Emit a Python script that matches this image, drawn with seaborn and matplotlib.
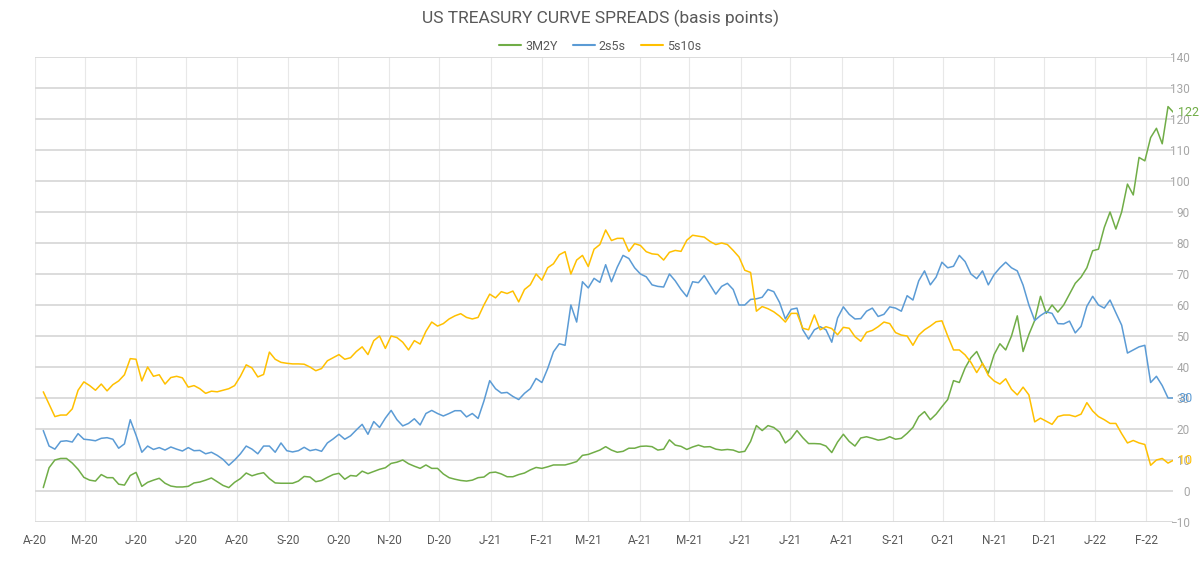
import numpy as np
import pandas as pd
import matplotlib
matplotlib.use("Agg")
import matplotlib.pyplot as plt
import matplotlib.dates as mdates
from matplotlib.lines import Line2D
import seaborn as sns

# ---------------- data ----------------
start_date = "2020-04-06"
step = "84h"   # twice-weekly sampling

s_3m2y = [1.1, 7.5, 10, 10.5, 10.5, 9, 7, 4.4, 3.5, 3.2,
          5.3, 4.3, 4.3, 2.2, 1.9, 5, 6, 1.5, 2.8, 3.5,
          4.1, 2.5, 1.6, 1.3, 1.3, 1.5, 2.6, 2.9, 3.5, 4.2,
          3, 1.8, 1.1, 2.8, 4, 5.8, 4.9, 5.5, 5.9, 4,
          2.6, 2.5, 2.5, 2.5, 3.2, 4.7, 4.5, 3, 3.4, 4.4,
          5.3, 5.7, 3.8, 5, 4.8, 6.4, 5.6, 6.3, 7, 7.5,
          8.9, 9.3, 10, 8.8, 8, 7.3, 8.4, 7.3, 7.3, 5.5,
          4.3, 3.8, 3.4, 3.2, 3.5, 4.3, 4.5, 5.9, 6.1, 5.5,
          4.6, 4.6, 5.3, 5.8, 6.8, 7.6, 7.3, 7.8, 8.4, 8.4,
          8.4, 8.9, 9.5, 11.5, 11.8, 12.5, 13.2, 14.3, 13.2, 12.5,
          12.8, 13.8, 13.8, 14.4, 14.5, 14.3, 13.2, 13.5, 16.5, 14.8,
          14.4, 13.4, 14.2, 14.8, 14.2, 14.3, 13.5, 13.2, 13.4, 13.2,
          12.5, 12.8, 16, 21.1, 19.5, 21.1, 20.5, 19, 15.5, 17,
          19.5, 17.2, 15.3, 15.3, 15.2, 14.5, 12.4, 15.8, 18.3, 16,
          14.5, 17.1, 17.5, 17, 16.4, 16.7, 17.5, 16.7, 17, 18.6,
          20.5, 24, 25.6, 23, 24.8, 27.2, 29.5, 35.6, 35, 39.7,
          43, 45, 41, 38, 44, 47.5, 45.5, 50, 56.5, 45,
          50.5, 55, 62.8, 57.3, 60, 57.7, 60, 63.5, 67, 69,
          72, 77.5, 78, 85, 90, 84.5, 90, 99, 95.5, 107.6,
          106.5, 114, 117, 112, 124, 122]

s_2s5s = [19.5, 14.5, 13.5, 16, 16.2, 15.8, 18.5, 16.7, 16.5, 16.2,
          17, 17.2, 16.7, 13.8, 15.2, 23, 18, 12.5, 14.5, 13.4,
          14, 13.2, 14.2, 13.5, 12.9, 14, 13, 13.1, 12, 12.5,
          11.5, 10.2, 8.3, 10, 12, 14.5, 13.5, 12, 14.5, 14.5,
          12.5, 15.5, 13, 12.6, 13, 14.1, 13, 13.4, 12.8, 15.5,
          16.8, 18.3, 16.7, 17.8, 19.7, 21.5, 18.3, 22.4, 20.5, 23.5,
          26, 23, 21, 21.8, 23.3, 21.3, 25, 26, 25, 24.2,
          25, 25.9, 25.9, 23.9, 25, 23.4, 29, 35.6, 33, 31.6,
          31.8, 30.5, 29.5, 31.5, 33, 36.3, 35, 39.5, 44.9, 47.5,
          47, 60, 54.5, 67.5, 65.5, 68.6, 67.3, 73, 67.5, 72.2,
          76, 75, 72, 70, 69.1, 66.5, 66, 65.8, 70, 67.8,
          65, 62.7, 67.5, 67.2, 69.5, 66.5, 63.5, 66, 67, 65,
          60, 60, 61.8, 62, 62.5, 65, 64.3, 60.8, 55.5, 58.6,
          59, 52, 49, 52, 53, 52, 48, 55.8, 59.4, 57,
          55.5, 55.6, 58, 59, 56.3, 57, 59.4, 59, 58, 63,
          61.6, 67.8, 71, 66.5, 69, 73.8, 72, 72.5, 76, 74,
          70, 68.5, 71, 66.5, 69.8, 72, 73.8, 72, 71, 66.4,
          60, 55, 56.6, 57.8, 57.3, 54, 53.9, 54.8, 51, 53.1,
          59.6, 62.8, 60, 59, 61.6, 57.5, 53.5, 44.5, 45.5, 46.5,
          47, 35, 37, 34, 30, 30]

s_5s10s = [32, 28, 24, 24.5, 24.5, 26.5, 32.5, 35.2, 34, 32.5,
           34.5, 32.3, 34.3, 35.5, 37.5, 42.7, 42.5, 35.5, 40, 37,
           37.5, 34.5, 36.6, 37, 36.5, 33.5, 34, 33, 31.5, 32.2,
           32, 32.5, 33, 34, 37, 40.7, 39.7, 36.8, 37.6, 44.8,
           42.5, 41.5, 41.2, 41, 41, 40.9, 40, 38.8, 39.5, 42,
           43, 44, 42.5, 43, 45, 46.5, 44, 48.5, 50, 46,
           50, 49.5, 48, 45.5, 48.5, 47.4, 51.5, 54.5, 53.2, 54,
           55.5, 56.5, 57.2, 56, 55.5, 56, 60, 63.5, 62.3, 64.3,
           63.7, 64.5, 61, 65, 66.5, 70, 68, 72, 73.3, 76.2,
           77.2, 70, 74.5, 76, 72.4, 78, 79.5, 84.2, 80.8, 81.5,
           81.5, 77.3, 79.8, 79.2, 77.2, 76.5, 76.3, 74.5, 77, 77.6,
           77.3, 80.9, 82.5, 82.2, 81.9, 80.5, 79.5, 80, 79.5, 77.6,
           75.5, 71.2, 70.5, 58, 59.5, 58.8, 57.8, 56.4, 54.5, 57.3,
           57.3, 52.5, 52, 56.8, 52, 53, 52.4, 50.4, 52.8, 52.5,
           49.8, 48.3, 51.2, 51.8, 53, 54.5, 54, 51.1, 50.3, 50,
           47, 50.3, 52, 53.2, 54.6, 54.9, 50, 45.5, 45.5, 43.9,
           41.5, 38.2, 41.2, 37.3, 35.5, 34.5, 36.2, 32.8, 31, 33.5,
           31, 22.3, 23.5, 22.5, 21.5, 24, 24.5, 24.5, 24, 24.8,
           28.5, 25.8, 24, 23, 21.8, 21.8, 18.5, 15.5, 16.3, 15.5,
           15, 8.3, 10, 10.5, 9, 10]

series_names = ["3M2Y", "2s5s", "5s10s"]
series_colors = ["#70AD47", "#5B9BD5", "#FFC000"]
end_labels = ["122", "30", "10"]

tick_dates = pd.date_range("2020-04-01", "2022-02-01", freq="MS")
tick_labels = ["A-20", "M-20", "J-20", "J-20", "A-20", "S-20", "O-20", "N-20",
               "D-20", "J-21", "F-21", "M-21", "A-21", "M-21", "J-21", "J-21",
               "A-21", "S-21", "O-21", "N-21", "D-21", "J-22", "F-22"]
y_ticks = list(range(-10, 141, 10))

title = "US TREASURY CURVE SPREADS (basis points)"

# ---------------- build frame ----------------
dates = pd.date_range(start_date, periods=len(s_3m2y), freq=step)
df = pd.DataFrame({"date": dates, "3M2Y": s_3m2y, "2s5s": s_2s5s, "5s10s": s_5s10s})
long = df.melt(id_vars="date", var_name="series", value_name="bp")

# ---------------- style ----------------
sns.set_theme(style="white")
fam = ["Liberation Sans Narrow", "Roboto", "DejaVu Sans"]
plt.rcParams["font.family"] = fam

fig = plt.figure(figsize=(12, 5.65), dpi=100)
ax = fig.add_axes([35 / 1200, 1 - 522 / 565, (1173 - 35) / 1200, (522 - 57) / 565])

palette = dict(zip(series_names, series_colors))
sns.lineplot(data=long, x="date", y="bp", hue="series", palette=palette,
             hue_order=series_names, linewidth=1.1, legend=False, ax=ax)

ax.set_ylim(-10, 140)
ax.set_xlim(pd.Timestamp("2020-04-01"), pd.Timestamp("2022-02-17"))
ax.set_xlabel("")
ax.set_ylabel("")

# grid
ax.set_yticks(y_ticks)
ax.set_xticks(tick_dates)
ax.set_xticklabels(tick_labels)
ax.grid(axis="y", color="#d9d9d9", linewidth=1.3)
ax.grid(axis="x", color="#e8e8e8", linewidth=0.8)
ax.set_axisbelow(True)
for sp in ax.spines.values():
    sp.set_visible(False)

ax.yaxis.tick_right()
ax.tick_params(axis="y", length=0, pad=12, labelsize=8.5, labelcolor="#a6a6a6")
for lab in ax.get_yticklabels():
    lab.set_horizontalalignment("right")
ax.tick_params(axis="x", length=0, pad=9, labelsize=8.5, labelcolor="#595959")

# end labels
last_date = dates[-1]
for name, col, lab in zip(series_names, series_colors, end_labels):
    ax.annotate(lab, xy=(last_date, df[name].iloc[-1]), xytext=(3, 0),
                textcoords="offset points", color=col, fontsize=9,
                va="center", ha="left", annotation_clip=False)

# title & legend
fig.text(0.5, 1 - 18 / 565, title, ha="center", va="center",
         fontsize=12.5, color="#595959")
handles = [Line2D([0], [0], color=c, linewidth=1.5) for c in series_colors]
fig.legend(handles, series_names, loc="center", bbox_to_anchor=(0.5, 1 - 46 / 565),
           ncol=3, frameon=False, fontsize=9, handlelength=1.8, handletextpad=0.3,
           columnspacing=1.2, labelcolor="#595959")

fig.savefig("out.png", dpi=100, facecolor="white")
